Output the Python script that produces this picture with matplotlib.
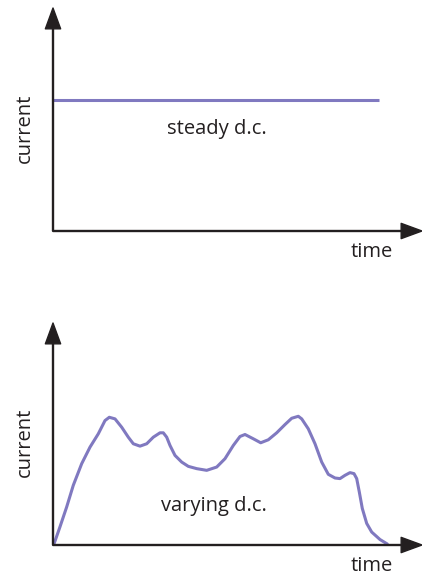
import matplotlib.pyplot as plt

# values (arbitrary units, origin at axis corner)
steady_time = [0, 326]
steady_current = [131, 131]

varying_time = [1, 7, 13.7, 20.3, 28.7, 37, 45.3, 52, 56.3, 62, 68.7, 75.3,
                80.3, 87, 93.7, 100.3, 107, 110.3, 113.7, 117, 122, 128.7,
                135.3, 143.7, 153.7, 163.7, 172, 180.3, 187, 192, 200.3, 207.7,
                215.3, 223.7, 232, 238.7, 245.3, 248.7, 255.3, 262, 268.7, 275.3,
                282, 287, 292, 297, 301, 303.7, 306.3, 309.3, 313.7, 318.7,
                327, 334.3]
varying_current = [1, 18.3, 38.3, 60, 81.7, 98.3, 111.7, 125, 128.3, 126.7,
                   118.3, 108.3, 101.7, 99.3, 101.7, 108.3, 112.7, 112.7, 108.3,
                   100, 90, 83.3, 79, 76.7, 75, 78.3, 86.7, 100, 109, 111, 106.7,
                   102.7, 105.7, 112.7, 121, 127.3, 129.3, 126.7, 116.7, 101.7,
                   83.3, 71, 67.3, 66.7, 70, 72.7, 71.7, 66.7, 53.3, 36.7, 21.7,
                   13, 5.5, 1]

x_max, y_max = 369, 223
line_col = '#8079c0'
axis_col = '#231f20'

plt.rcParams['font.family'] = ['Open Sans', 'DejaVu Sans']

fig = plt.figure(figsize=(4.22, 5.75), dpi=100)
W, H = 422, 575


def make_axes(bottom_px, height_px):
    ax = fig.add_axes([53 / W, bottom_px / H, 369 / W, height_px / H])
    ax.set_xlim(0, x_max)
    ax.set_ylim(0, y_max)
    ax.axis('off')
    arrow = dict(facecolor=axis_col, edgecolor=axis_col, width=0.7,
                 headwidth=11, headlength=15, shrink=0)
    ax.annotate('', xy=(0, 1), xytext=(0, 0), xycoords='axes fraction',
                arrowprops=arrow, annotation_clip=False)
    ax.annotate('', xy=(1, 0), xytext=(0, 0), xycoords='axes fraction',
                arrowprops=arrow, annotation_clip=False)
    ax.text(319, -21, 'time', ha='center', va='center', fontsize=14.5,
            color=axis_col, clip_on=False)
    ax.text(-28, 103, 'current', ha='center', va='center', rotation=90,
            fontsize=14.5, color=axis_col, clip_on=False)
    return ax


ax1 = make_axes(344, 223)
ax1.plot(steady_time, steady_current, color=line_col, lw=2.2,
         solid_capstyle='butt')
ax1.text(164, 102, 'steady d.c.', ha='center', va='center', fontsize=14.5,
         color=axis_col)

ax2 = make_axes(30, 222)
ax2.plot(varying_time, varying_current, color=line_col, lw=2.2,
         solid_joinstyle='round', solid_capstyle='round')
ax2.text(161, 39, 'varying d.c.', ha='center', va='center', fontsize=14.5,
         color=axis_col)

fig.savefig('out.png', dpi=100)
